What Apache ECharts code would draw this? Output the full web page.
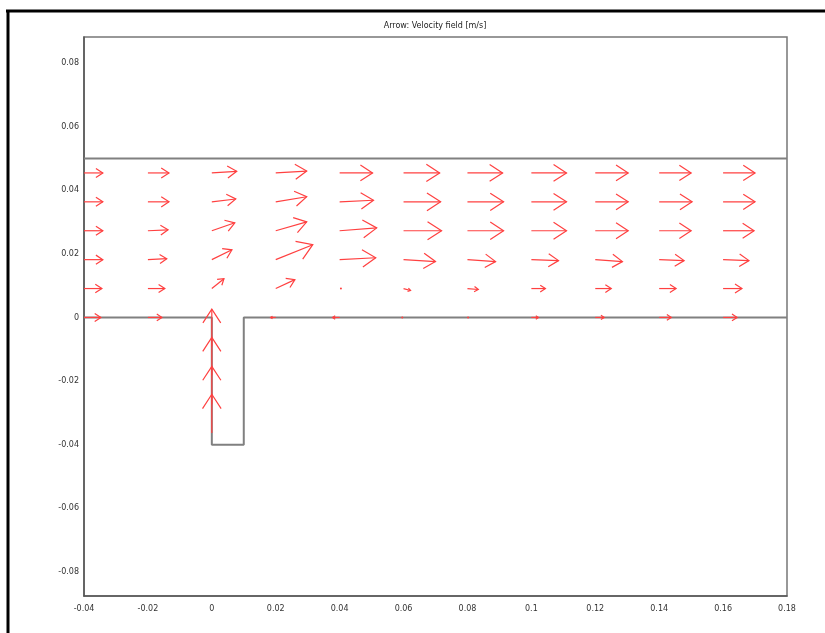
<!DOCTYPE html>
<html><head><meta charset="utf-8">
<script src="https://cdn.jsdelivr.net/npm/echarts@6/dist/echarts.min.js"></script>
<style>html,body{margin:0;padding:0;background:#fff}#c{width:825px;height:633px}</style>
</head><body><div id="c"></div>
<script>
const titleText = 'Arrow: Velocity field [m/s]';
const gridX = [-0.04,-0.02,0,0.02,0.04,0.06,0.08,0.1,0.12,0.14,0.16];
const gridY = [0.04545,0.03636,0.02727,0.01818,0.00909,0];
const arrowU = [
 [5.9,6.6,7.8,9.7,10.3,11.3,11.0,11.0,10.3,10.0,10.0],
 [5.9,6.6,7.5,9.7,10.6,11.6,11.3,11.0,10.3,10.3,10.0],
 [5.9,6.3,7.2,9.7,11.6,11.9,11.3,11.0,10.3,10.0,9.7],
 [5.9,5.9,6.3,11.6,11.3,10.0,8.8,8.5,8.5,7.8,8.1],
 [5.6,5.3,3.8,6.0,0.4,2.2,3.4,4.4,5.0,5.3,5.9],
 [5.3,4.4,0,-1.6,-2.2,-0.4,0.2,2.2,2.8,3.8,4.4]
];
const arrowV = [
 [0,0,0.5,0.6,0,0,0,0,0,0,0],
 [0,0,0.9,1.6,0.5,0,0,0,0,0,0],
 [0,0.3,2.5,2.8,0.9,0,0,0,0,0,0],
 [0,0.3,3.1,4.7,0.6,-0.6,-0.6,-0.3,-0.6,-0.3,-0.3],
 [0,0,3.1,2.8,0,-0.6,-0.3,0,0,0,0],
 [0,0,0,0,0,0,0,0,0,0,0]
];
const slotX = 0;
const slotY = [-0.03636,-0.02727,-0.01818,-0.00909];
const slotV = [12.2,11.9,11.9,11.7];
const arrowScale = 0.001;
const wallTopX = [-0.04,0.18];
const wallTopY = [0.05,0.05];
const wallBottomX = [-0.04,0,0,0.01,0.01,0.18];
const wallBottomY = [0,0,-0.04,-0.04,0,0];
const yTicks = [-0.08,-0.06,-0.04,-0.02,0,0.02,0.04,0.06,0.08];

const arrowColor = '#ff4040';
const arrowData = [];
gridY.forEach((y,i)=>gridX.forEach((x,j)=>arrowData.push([x,y,arrowU[i][j],arrowV[i][j]])));
slotY.forEach((y,k)=>arrowData.push([slotX,y,0,slotV[k]]));

function renderArrow(params, api){
  const x=api.value(0), y=api.value(1), u=api.value(2), v=api.value(3);
  if(u===0 && v===0) return null;
  const p0=api.coord([x,y]);
  const p1=api.coord([x+u*arrowScale, y+v*arrowScale]);
  const dx=p1[0]-p0[0], dy=p1[1]-p0[1];
  const L=Math.hypot(dx,dy);
  const st={stroke:arrowColor,lineWidth:1.2,fill:null};
  if(L<2) return {type:'circle',shape:{cx:p1[0],cy:p1[1],r:1},style:{fill:arrowColor}};
  const ang=Math.atan2(dy,dx), hl=0.44*L, ha=33*Math.PI/180;
  const a1=[p1[0]-hl*Math.cos(ang-ha), p1[1]-hl*Math.sin(ang-ha)];
  const a2=[p1[0]-hl*Math.cos(ang+ha), p1[1]-hl*Math.sin(ang+ha)];
  return {type:'group',children:[
    {type:'polyline',shape:{points:[p0,p1]},style:st},
    {type:'polyline',shape:{points:[a1,p1,a2]},style:st}
  ]};
}
const fmt = v => String(parseFloat(Number(v).toFixed(4)));
const chart = echarts.init(document.getElementById('c'));
chart.setOption({
  animation:false,
  backgroundColor:'#fff',
  grid:{left:84,right:38,top:37,bottom:37,show:true,borderColor:'#777',borderWidth:1.5},
  graphic:[
    {type:'line',shape:{x1:6,y1:11,x2:825,y2:11},style:{stroke:'#000',lineWidth:3},z:100},
    {type:'line',shape:{x1:8,y1:10,x2:8,y2:633},style:{stroke:'#000',lineWidth:3},z:100},
    {type:'text',x:435,y:26,style:{text:titleText,fontSize:8,fontFamily:'DejaVu Sans',fill:'#222',align:'center',verticalAlign:'middle'}}
  ],
  xAxis:{type:'value',min:-0.04,max:0.18,interval:0.02,
    axisLine:{show:true,onZero:false,lineStyle:{color:'#555',width:1.5}},axisTick:{show:false},splitLine:{show:false},
    axisLabel:{fontSize:8,fontFamily:'DejaVu Sans',color:'#333',margin:9,formatter:fmt}},
  yAxis:{type:'value',min:-0.0876,max:0.0882,
    axisLine:{show:true,onZero:false,lineStyle:{color:'#555',width:1.5}},axisTick:{show:false},splitLine:{show:false},
    axisLabel:{fontSize:8,fontFamily:'DejaVu Sans',color:'#333',margin:5,customValues:yTicks,formatter:fmt}},
  series:[
    {type:'line',data:wallTopX.map((x,i)=>[x,wallTopY[i]]),symbol:'none',lineStyle:{color:'#808080',width:2},z:2},
    {type:'line',data:wallBottomX.map((x,i)=>[x,wallBottomY[i]]),symbol:'none',lineStyle:{color:'#808080',width:2},z:2},
    {type:'custom',renderItem:renderArrow,data:arrowData,encode:{x:0,y:1},z:5,clip:false}
  ]
});
</script></body></html>
